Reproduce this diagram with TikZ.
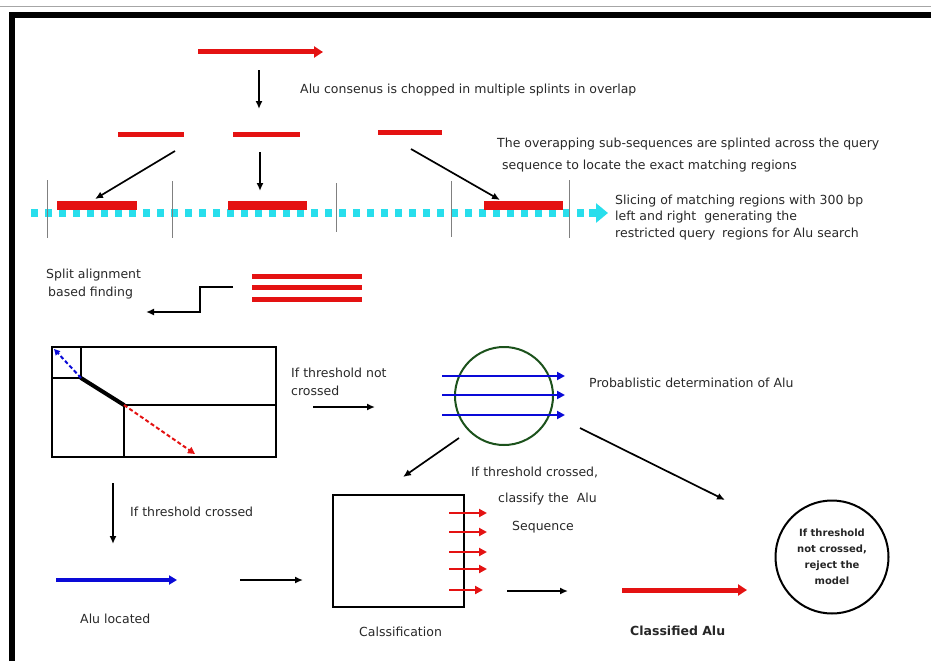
\documentclass[tikz,border=0pt]{standalone}
\usepackage{fontspec}
\setmainfont{DejaVu Sans}
\usetikzlibrary{arrows.meta}

\definecolor{splintred}{RGB}{228,18,18}
\definecolor{querycyan}{RGB}{40,222,236}
\definecolor{probgreen}{RGB}{28,82,28}
\definecolor{textgray}{RGB}{40,40,40}
\definecolor{alublue}{RGB}{10,10,215}

\tikzset{
  lbl/.style={anchor=west, inner sep=0pt, text=textgray, font=\fontsize{12.5}{15}\selectfont},
  flow/.style={-{Latex[length=8pt,width=7pt]}, line width=1.7pt},
  splint/.style={splintred, line width=5pt},
  hit/.style={splintred, line width=9pt},
  cut/.style={gray, line width=1pt},
  thinarrow/.style={line width=2pt, -{Triangle[length=8pt,width=8pt]}},
}

\begin{document}
\begin{tikzpicture}[x=1pt, y=-1pt]
        \useasboundingbox (0,0) rectangle (931,661);

        % frame
        \draw[gray!70, line width=1pt] (0,7) -- (931,7);
        \draw[line width=6pt] (12,661) -- (12,15) -- (931,15);

        % consensus
        \coordinate (cons s) at (198,52);
        \coordinate (cons e) at (323,52);
        \draw[splint, -{Triangle[length=9pt,width=11pt]}] (cons s) -- (cons e);

        \coordinate (chop s) at (259,70);
        \coordinate (chop e) at (259,109);
        \draw[flow] (chop s) -- (chop e);
        \node[lbl] (chopnote) at (300,90) {Alu consenus is chopped in multiple splints in overlap};

        % splints
        \draw[splint] (118,134) -- (184,134);
        \draw[splint] (233,134) -- (300,134);
        \draw[splint] (378,132) -- (442,132);

        \coordinate (sp1) at (175,151);
        \coordinate (sp2) at (260,152);
        \coordinate (sp3) at (411,149);
        \coordinate (hit1) at (95,199);
        \coordinate (hit2) at (260,191);
        \coordinate (hit3) at (500,200);
        \draw[flow] (sp1) -- (hit1);
        \draw[flow] (sp2) -- (hit2);
        \draw[flow] (sp3) -- (hit3);

        \node[lbl] (overlap1) at (497,144) {The overapping sub-sequences are splinted across the query};
        \node[lbl] (overlap2) at (502,166) {sequence to locate the exact matching regions};

        % query sequence
        \coordinate (query s) at (31,213);
        \coordinate (query m) at (589,213);
        \coordinate (query e) at (608,213);
        \draw[querycyan, line width=8pt, dash pattern=on 6.5pt off 7.5pt] (query s) -- (query m);
        \draw[querycyan, line width=8pt, -{Triangle[length=12pt,width=19pt]}] (query m) -- (query e);

        \draw[hit] (57,205) -- (137,205);
        \draw[hit] (228,205) -- (307,205);
        \draw[hit] (484,205) -- (563,205);

        % cut positions
        \draw[cut] (47,180) -- (47,238);
        \draw[cut] (172,181) -- (172,238);
        \draw[cut] (336,183) -- (336,232);
        \draw[cut] (451,181) -- (451,237);
        \draw[cut] (569,180) -- (569,238);

        \node[lbl] (slice1) at (615,201) {Slicing of matching regions with 300 bp};
        \node[lbl] (slice2) at (615,217) {left and right\hspace{4pt} generating the};
        \node[lbl] (slice3) at (615,234) {restricted query\hspace{3pt} regions for Alu search};

        % split alignment
        \node[lbl] (split1) at (46,275) {Split alignment};
        \node[lbl] (split2) at (48,293) {based finding};

        \draw[splint] (252,276) -- (362,276);
        \draw[splint] (252,287) -- (362,287);
        \draw[splint] (252,299) -- (362,299);

        \coordinate (step s) at (233,287);
        \coordinate (step e) at (146,312);
        \draw[flow] (step s) -- (200,287) -- (200,312) -- (step e);

        % alignment matrix
        \coordinate (tl) at (52,347);
        \coordinate (br) at (276,457);
        \coordinate (knee1) at (81,378);
        \coordinate (knee2) at (124,405);
        \draw[line width=2pt] (tl) rectangle (br);
        \draw[line width=2pt] (52,378) -- (knee1) -- (81,347);
        \draw[line width=2pt] (276,405) -- (knee2) -- (124,457);
        \draw[line width=4pt, line cap=round] (knee1) -- (knee2);
        \draw[alublue, line width=2pt, dash pattern=on 4pt off 2.5pt, -{Triangle[length=6pt,width=6pt]}] (knee1) -- (54,349);
        \draw[splintred, line width=2pt, dash pattern=on 4pt off 2.5pt, -{Triangle[length=7pt,width=7pt]}] (knee2) -- (195,454);

        \node[lbl] (notcross1) at (291,373) {If threshold not};
        \node[lbl] (notcross2) at (291,391) {crossed};
        \coordinate (nc s) at (313,407);
        \coordinate (nc e) at (375,407);
        \draw[flow] (nc s) -- (nc e);

        % probabilistic model
        \node[circle, draw=probgreen, line width=2pt, minimum size=98pt, inner sep=0pt] (prob) at (504,396) {};
        \draw[alublue, thinarrow] (442,376) -- (565,376);
        \draw[alublue, thinarrow] (442,395) -- (565,395);
        \draw[alublue, thinarrow] (442,415) -- (565,415);
        \node[lbl] (probnote) at (589,383) {Probablistic determination of Alu};

        \coordinate (cls s) at (459,438);
        \coordinate (cls e) at (403,477);
        \coordinate (rej s) at (580,428);
        \coordinate (rej e) at (725,500);
        \draw[flow] (cls s) -- (cls e);
        \draw[flow] (rej s) -- (rej e);

        \node[lbl] (cross1) at (471,472) {If threshold crossed,};
        \node[lbl] (cross2) at (498,499) {classify the\hspace{4pt} Alu};
        \node[lbl] (cross3) at (512,527) {Sequence};

        % classification
        \node[draw, line width=2pt, minimum width=131pt, minimum height=112pt, inner sep=0pt] (classbox) at (398,551) {};
        \draw[splintred, thinarrow] (449,513) -- (487,513);
        \draw[splintred, thinarrow] (449,532) -- (487,532);
        \draw[splintred, thinarrow] (449,552) -- (487,552);
        \draw[splintred, thinarrow] (449,569) -- (487,569);
        \draw[splintred, thinarrow] (449,590) -- (483,590);
        \node[lbl] (classnote) at (359,632) {Calssification};

        \coordinate (out s) at (507,591);
        \coordinate (out e) at (568,591);
        \draw[flow] (out s) -- (out e);

        \coordinate (fin s) at (622,590);
        \coordinate (fin e) at (747,590);
        \draw[splint, -{Triangle[length=9pt,width=11pt]}] (fin s) -- (fin e);
        \node[lbl, font=\bfseries\fontsize{12.5}{15}\selectfont, text=black!85] (finnote) at (630,631) {Classified Alu};

        % reject
        \node[circle, draw, line width=2pt, minimum size=113pt, inner sep=0pt, align=center,
              font=\bfseries\fontsize{10}{16}\selectfont, text=black!85] (reject) at (832,557)
              {If threshold\\not crossed,\\reject the\\model};

        % located
        \coordinate (loc s) at (113,483);
        \coordinate (loc e) at (113,544);
        \draw[flow] (loc s) -- (loc e);
        \node[lbl] (locnote) at (130,512) {If threshold crossed};

        \coordinate (alu s) at (56,580);
        \coordinate (alu e) at (177,580);
        \draw[alublue, line width=4pt, -{Triangle[length=8pt,width=9pt]}] (alu s) -- (alu e);
        \node[lbl] (alunote) at (80,619) {Alu located};

        \coordinate (next s) at (240,580);
        \coordinate (next e) at (303,580);
        \draw[flow] (next s) -- (next e);
\end{tikzpicture}
\end{document}
